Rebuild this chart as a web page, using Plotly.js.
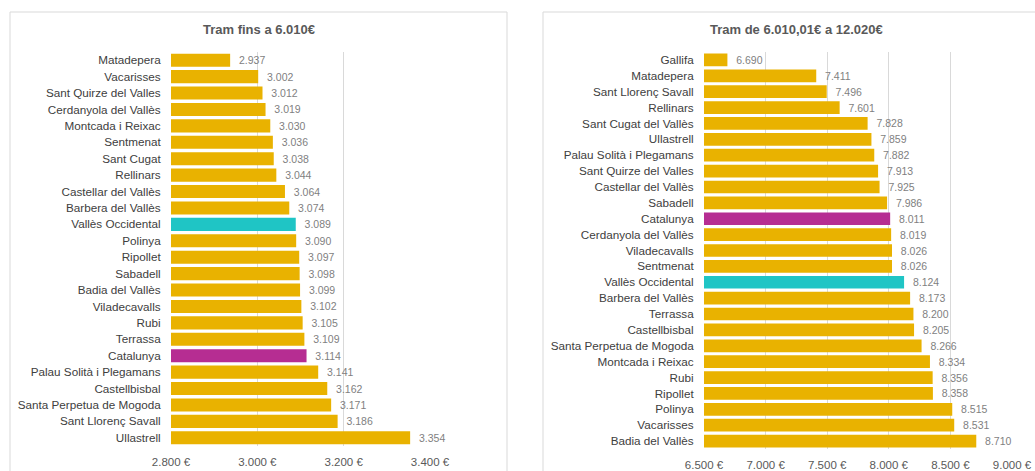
<!DOCTYPE html>
<html>
<head>
<meta charset="utf-8">
<script src="https://cdn.plot.ly/plotly-3.0.1.min.js"></script>
<style>
html,body{margin:0;padding:0;background:#fff;}
#chart{width:1035px;height:471px;}
</style>
</head>
<body>
<div id="chart"></div>
<script>
// Data: left panel (Tram fins a 6.010€)
const leftTitle = 'Tram fins a 6.010€';
const leftCategories = [
  'Matadepera','Vacarisses','Sant Quirze del Valles','Cerdanyola del Vallès','Montcada i Reixac',
  'Sentmenat','Sant Cugat','Rellinars','Castellar del Vallès','Barbera del Vallès',
  'Vallès Occidental','Polinya','Ripollet','Sabadell','Badia del Vallès',
  'Viladecavalls','Rubi','Terrassa','Catalunya','Palau Solità i Plegamans',
  'Castellbisbal','Santa Perpetua de Mogoda','Sant Llorenç Savall','Ullastrell'
];
const leftValues = [
  2937,3002,3012,3019,3030,
  3036,3038,3044,3064,3074,
  3089,3090,3097,3098,3099,
  3102,3105,3109,3114,3141,
  3162,3171,3186,3354
];
const leftTicks = [2800,3000,3200,3400];
const leftTickLabels = ['2.800 €','3.000 €','3.200 €','3.400 €'];

// Data: right panel (Tram de 6.010,01€ a 12.020€)
const rightTitle = 'Tram de 6.010,01€ a 12.020€';
const rightCategories = [
  'Gallifa','Matadepera','Sant Llorenç Savall','Rellinars','Sant Cugat del Vallès',
  'Ullastrell','Palau Solità i Plegamans','Sant Quirze del Valles','Castellar del Vallès','Sabadell',
  'Catalunya','Cerdanyola del Vallès','Viladecavalls','Sentmenat','Vallès Occidental',
  'Barbera del Vallès','Terrassa','Castellbisbal','Santa Perpetua de Mogoda','Montcada i Reixac',
  'Rubi','Ripollet','Polinya','Vacarisses','Badia del Vallès'
];
const rightValues = [
  6690,7411,7496,7601,7828,
  7859,7882,7913,7925,7986,
  8011,8019,8026,8026,8124,
  8173,8200,8205,8266,8334,
  8356,8358,8515,8531,8710
];
const rightTicks = [6500,7000,7500,8000,8500,9000];
const rightTickLabels = ['6.500 €','7.000 €','7.500 €','8.000 €','8.500 €','9.000 €'];

// Styling
const GOLD = '#E9B200', TEAL = '#1FC5C5', MAGENTA = '#B62D92';
function colorFor(name){
  if (name === 'Catalunya') return MAGENTA;
  if (name === 'Vallès Occidental') return TEAL;
  return GOLD;
}
const W = 1035, H = 471;
const px = v => v / W;
const py = v => 1 - v / H;

const FONT = '"Liberation Sans", Arial, sans-serif';

const traceLeft = {
  type: 'bar', orientation: 'h',
  x: leftValues, y: leftCategories,
  xaxis: 'x', yaxis: 'y',
  marker: {color: leftCategories.map(colorFor)},
  texttemplate: '  %{x:,}', textposition: 'outside',
  textfont: {family: FONT, size: 10.5, color: '#7f7f7f'},
  cliponaxis: false, hoverinfo: 'none'
};
const traceRight = {
  type: 'bar', orientation: 'h',
  x: rightValues, y: rightCategories,
  xaxis: 'x2', yaxis: 'y2',
  marker: {color: rightCategories.map(colorFor)},
  texttemplate: '  %{x:,}', textposition: 'outside',
  textfont: {family: FONT, size: 10.5, color: '#7f7f7f'},
  cliponaxis: false, hoverinfo: 'none'
};

const xCommon = {
  showgrid: true, gridcolor: '#d9d9d9', gridwidth: 1,
  zeroline: false, showline: false,
  ticks: 'outside', ticklen: 5, tickcolor: 'rgba(0,0,0,0)',
  tickmode: 'array',
  tickfont: {family: FONT, size: 11.5, color: '#595959'},
  fixedrange: true
};
const yCommon = {
  autorange: 'reversed', showgrid: false, zeroline: false, showline: false,
  ticks: 'outside', ticklen: 7, tickcolor: 'rgba(0,0,0,0)',
  tickfont: {family: FONT, size: 11.7, color: '#404040'},
  automargin: false, fixedrange: true
};

const layout = {
  width: W, height: H,
  margin: {l: 0, r: 0, t: 0, b: 0},
  paper_bgcolor: '#ffffff', plot_bgcolor: 'rgba(0,0,0,0)',
  separators: ',.',
  showlegend: false,
  bargap: 0.2,
  font: {family: FONT},
  xaxis: Object.assign({}, xCommon, {
    domain: [px(171), px(430)], range: [2800, 3400],
    tickvals: leftTicks, ticktext: leftTickLabels, anchor: 'y'
  }),
  yaxis: Object.assign({}, yCommon, {
    domain: [py(446), py(52)], anchor: 'x'
  }),
  xaxis2: Object.assign({}, xCommon, {
    domain: [px(704), px(1012)], range: [6500, 9000],
    tickvals: rightTicks, ticktext: rightTickLabels, anchor: 'y2'
  }),
  yaxis2: Object.assign({}, yCommon, {
    domain: [py(449), py(52)], anchor: 'x2'
  }),
  shapes: [
    {type: 'rect', xref: 'paper', yref: 'paper', x0: px(10), x1: px(507), y0: -0.05, y1: py(12),
     line: {color: '#d9d9d9', width: 1}, fillcolor: 'rgba(0,0,0,0)', layer: 'below'},
    {type: 'rect', xref: 'paper', yref: 'paper', x0: px(543), x1: 1.05, y0: -0.05, y1: py(12),
     line: {color: '#d9d9d9', width: 1}, fillcolor: 'rgba(0,0,0,0)', layer: 'below'}
  ],
  annotations: [
    {text: '<b>' + leftTitle + '</b>', xref: 'paper', yref: 'paper', x: px(259), y: py(30),
     xanchor: 'center', yanchor: 'middle', showarrow: false,
     font: {family: FONT, size: 13, color: '#595959'}},
    {text: '<b>' + rightTitle + '</b>', xref: 'paper', yref: 'paper', x: px(796), y: py(30),
     xanchor: 'center', yanchor: 'middle', showarrow: false,
     font: {family: FONT, size: 13, color: '#595959'}}
  ]
};

Plotly.newPlot('chart', [traceLeft, traceRight], layout, {displayModeBar: false, staticPlot: true});
</script>
</body>
</html>
